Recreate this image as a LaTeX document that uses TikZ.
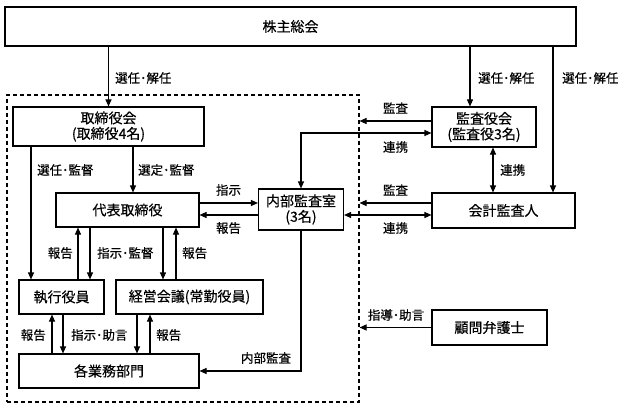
\documentclass[tikz,border=0pt]{standalone}
\usepackage{fontspec}
\setmainfont{Noto Sans CJK JP}[FakeBold=0.4]
\usetikzlibrary{arrows.meta}
\tikzset{
  box/.style={draw, line width=1.1pt, inner sep=0pt, align=center, font=\fontsize{14}{15.5}\selectfont},
  lbl/.style={inner sep=0pt, font=\fontsize{12.5}{14}\selectfont},
  arr/.style={line width=1.1pt, -{Triangle[length=7pt,width=6pt]}},
  darr/.style={line width=1.1pt, {Triangle[length=7pt,width=6pt]}-{Triangle[length=7pt,width=6pt]}},
  ln/.style={line width=1.1pt},
}
\begin{document}
\begin{tikzpicture}[x=1pt,y=-1pt]
\useasboundingbox (0,0) rectangle (626,409);
\fill[white] (0,0) rectangle (626,409);
% dashed group
\node[draw, dashed, dash pattern=on 4pt off 3pt, line width=1.1pt, minimum width=352pt, minimum height=307pt, inner sep=0pt] (grp) at (183,248.5) {};
% boxes
\node[box, minimum width=571pt, minimum height=39pt] (soukai) at (290.5,26.5) {株主総会};
\node[box, minimum width=191pt, minimum height=39pt] (tori) at (108.5,126.5) {取締役会\\(取締役4名)};
\node[box, minimum width=143pt, minimum height=34pt] (daihyo) at (127.5,210) {代表取締役};
\node[box, minimum width=85pt, minimum height=41pt] (naibu) at (301,209.5) {内部監査室\\(3名)};
\node[box, minimum width=104pt, minimum height=40pt] (kansa) at (484,127) {監査役会\\(監査役3名)};
\node[box, minimum width=143pt, minimum height=35pt] (kaikei) at (503.5,210.5) {会計監査人};
\node[box, minimum width=85pt, minimum height=34pt] (shikko) at (61.5,297) {執行役員};
\node[box, minimum width=147pt, minimum height=34pt] (keiei) at (189.5,297) {経営会議(常勤役員)};
\node[box, minimum width=180pt, minimum height=34pt] (gyomu) at (109,371) {各業務部門};
\node[box, minimum width=115pt, minimum height=35pt] (komon) at (489.5,327.5) {顧問弁護士};
% shareholders
\draw[arr] (tori.north |- soukai.south) -- (tori.north);
\node[lbl, anchor=west] (l1) at (115,78) {選任･解任};
\draw[arr] (470,0 |- soukai.south) -- (470,0 |- kansa.north);
\node[lbl, anchor=west] (l2) at (478,78) {選任･解任};
\draw[arr] (553,0 |- soukai.south) -- (553,0 |- kaikei.north);
\node[lbl, anchor=west] (l3) at (562,78) {選任･解任};
% board
\draw[arr] (31,0 |- tori.south) -- (31,0 |- shikko.north);
\node[lbl, anchor=west] (l4) at (37,170) {選任･監督};
\draw[arr] (133,0 |- tori.south) -- (133,0 |- daihyo.north);
\node[lbl, anchor=west] (l5) at (138,170) {選定･監督};
% daihyo <-> naibu
\draw[arr] (daihyo.east |- 0,203) -- (naibu.west |- 0,203);
\node[lbl] (l6) at (228.5,190) {指示};
\draw[arr] (naibu.west |- 0,215) -- (daihyo.east |- 0,215);
\node[lbl] (l7) at (228.5,228) {報告};
% daihyo <-> shikko
\draw[arr] (78,0 |- shikko.north) -- (78,0 |- daihyo.south);
\node[lbl, anchor=east] (l8) at (73,253) {報告};
\draw[arr] (90,0 |- daihyo.south) -- (90,0 |- shikko.north);
\node[lbl, anchor=west] (l9) at (97,253) {指示･監督};
% daihyo <-> keiei
\draw[arr] (163,0 |- daihyo.south) -- (163,0 |- keiei.north);
\draw[arr] (176,0 |- keiei.north) -- (176,0 |- daihyo.south);
\node[lbl, anchor=west] (l10) at (182,253) {報告};
% shikko <-> gyomu
\draw[arr] (52,0 |- gyomu.north) -- (52,0 |- shikko.south);
\node[lbl, anchor=east] (l11) at (46,335) {報告};
\draw[arr] (63,0 |- shikko.south) -- (63,0 |- gyomu.north);
\node[lbl, anchor=west] (l12) at (71,335) {指示･助言};
% keiei <-> gyomu
\draw[arr] (137,0 |- keiei.south) -- (137,0 |- gyomu.north);
\draw[arr] (150,0 |- gyomu.north) -- (150,0 |- keiei.south);
\node[lbl, anchor=west] (l13) at (156,335) {報告};
% internal audit
\draw[arr] (naibu.south) |- (gyomu.east);
\node[lbl] (l14) at (266,358) {内部監査};
% kansayaku
\draw[arr] (kansa.west |- 0,121) -- (grp.east |- 0,121);
\node[lbl] (l15) at (395.5,108) {監査};
\draw[darr] (naibu.north) |- (kansa.west |- 0,133);
\node[lbl] (l16) at (395.5,147) {連携};
\draw[darr] (493,0 |- kansa.south) -- (493,0 |- kaikei.north);
\node[lbl, anchor=west] (l17) at (500,170) {連携};
% kaikei
\draw[arr] (kaikei.west |- 0,203) -- (grp.east |- 0,203);
\node[lbl] (l18) at (395.5,190) {監査};
\draw[darr] (naibu.east |- 0,215) -- (kaikei.west |- 0,215);
\node[lbl] (l19) at (395.5,228) {連携};
% komon
\draw[arr] (komon.west) -- (grp.east |- komon.west);
\node[lbl] (l20) at (396,315) {指導･助言};
\end{tikzpicture}
\end{document}
